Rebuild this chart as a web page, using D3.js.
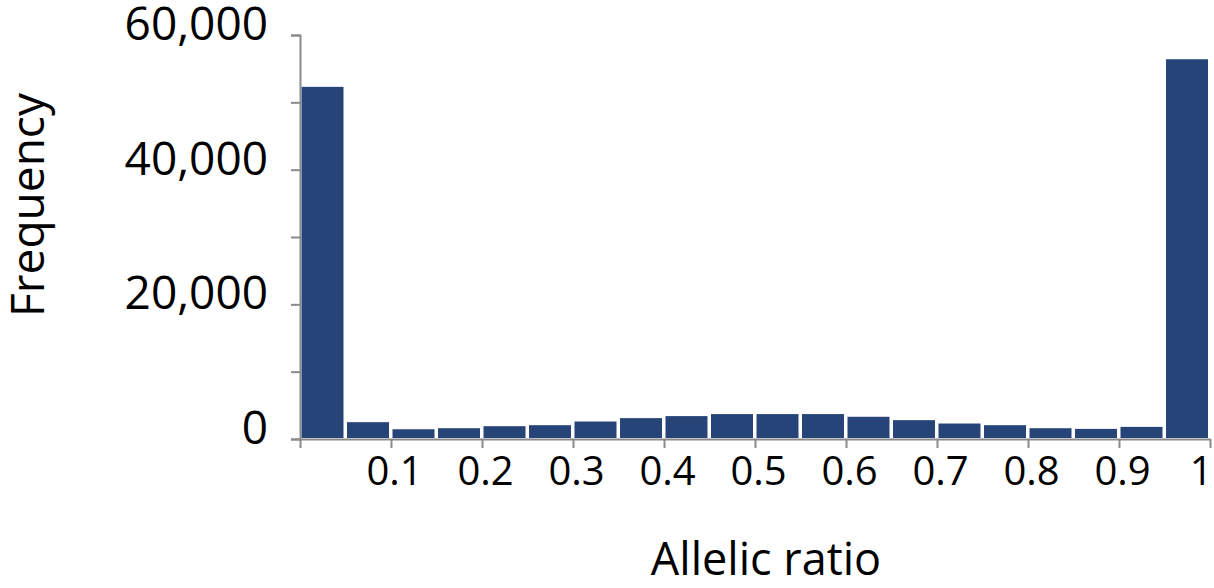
<!DOCTYPE html>
<html>
<head>
<meta charset="utf-8">
<script src="https://cdn.jsdelivr.net/npm/d3@7"></script>
<style>
  body { margin: 0; background: #fff; }
  svg { display: block; }
  text { font-family: "Open Sans", sans-serif; fill: #000; }
  .axis path, .axis line { stroke: #8a8a8a; stroke-width: 2; }
</style>
</head>
<body>
<div class="chart"></div>
<script>
const width = 1214;
const height = 588;
const margin = {top: 35, right: 4, bottom: 149, left: 300};

// bin starts (allelic ratio) and frequencies
const binStarts = [0, 0.05, 0.1, 0.15, 0.2, 0.25, 0.3, 0.35, 0.4, 0.45,
                   0.5, 0.55, 0.6, 0.65, 0.7, 0.75, 0.8, 0.85, 0.9, 0.95];
const frequencies = [52300, 2500, 1450, 1600, 1900, 2050, 2600, 3100, 3400, 3700,
                     3700, 3700, 3300, 2800, 2300, 2050, 1600, 1500, 1800, 56400];
const binWidth = 0.05;
const xTicks = [0, 0.1, 0.2, 0.3, 0.4, 0.5, 0.6, 0.7, 0.8, 0.9, 1];
const yTicks = [0, 20000, 40000, 60000];
const yMinorTicks = [0, 10000, 20000, 30000, 40000, 50000, 60000];
const xAxisLabel = 'Allelic ratio';
const yAxisLabel = 'Frequency';

const data = binStarts.map((b, i) => ({x0: b, x1: b + binWidth, value: frequencies[i]}));

const svg = d3.select('.chart').append('svg')
  .attr('width', width)
  .attr('height', height);

const xScale = d3.scaleLinear()
  .domain([0, 1])
  .range([margin.left, width - margin.right]);

const yScale = d3.scaleLinear()
  .domain([0, 60000])
  .range([height - margin.bottom, margin.top]);

// bars
svg.append('g')
  .selectAll('rect')
  .data(data)
  .enter().append('rect')
    .attr('x', d => xScale(d.x0) + 1.5)
    .attr('width', d => xScale(d.x1) - xScale(d.x0) - 3.5)
    .attr('y', d => yScale(d.value))
    .attr('height', d => yScale(0) - yScale(d.value) - 1)
    .attr('fill', '#264478');

// y axis (ticks every 10,000, labels on 20,000s)
const yAxis = d3.axisLeft(yScale)
  .tickValues(yMinorTicks)
  .tickSize(9)
  .tickSizeOuter(9)
  .tickFormat(d => yTicks.includes(d) ? d3.format(',')(d) : '');

const gy = svg.append('g')
  .attr('class', 'axis')
  .attr('transform', `translate(${margin.left},0)`)
  .call(yAxis)
  .attr('font-family', null);
gy.selectAll('text')
  .attr('x', -32)
  .attr('dy', '0.1em')
  .style('font-size', '46px');

// x axis
const xAxis = d3.axisBottom(xScale)
  .tickValues(xTicks)
  .tickSize(9)
  .tickSizeOuter(0)
  .tickFormat(d => d === 0 ? '' : d3.format('')(d));

const gx = svg.append('g')
  .attr('class', 'axis')
  .attr('transform', `translate(0,${height - margin.bottom})`)
  .call(xAxis)
  .attr('font-family', null);
gx.selectAll('text')
  .attr('y', 18)
  .attr('text-anchor', d => d === 1 ? 'end' : 'middle')
  .attr('dx', d => d === 1 ? 2 : 3)
  .style('font-size', '40px');

// axis labels
svg.append('text')
  .attr('x', 766)
  .attr('y', 575)
  .attr('text-anchor', 'middle')
  .style('font-size', '45px')
  .text(xAxisLabel);

svg.append('g')
  .attr('transform', 'translate(44,205)')
  .append('text')
  .attr('text-anchor', 'middle')
  .attr('transform', 'rotate(-90)')
  .style('font-size', '46px')
  .text(yAxisLabel);
</script>
</body>
</html>
